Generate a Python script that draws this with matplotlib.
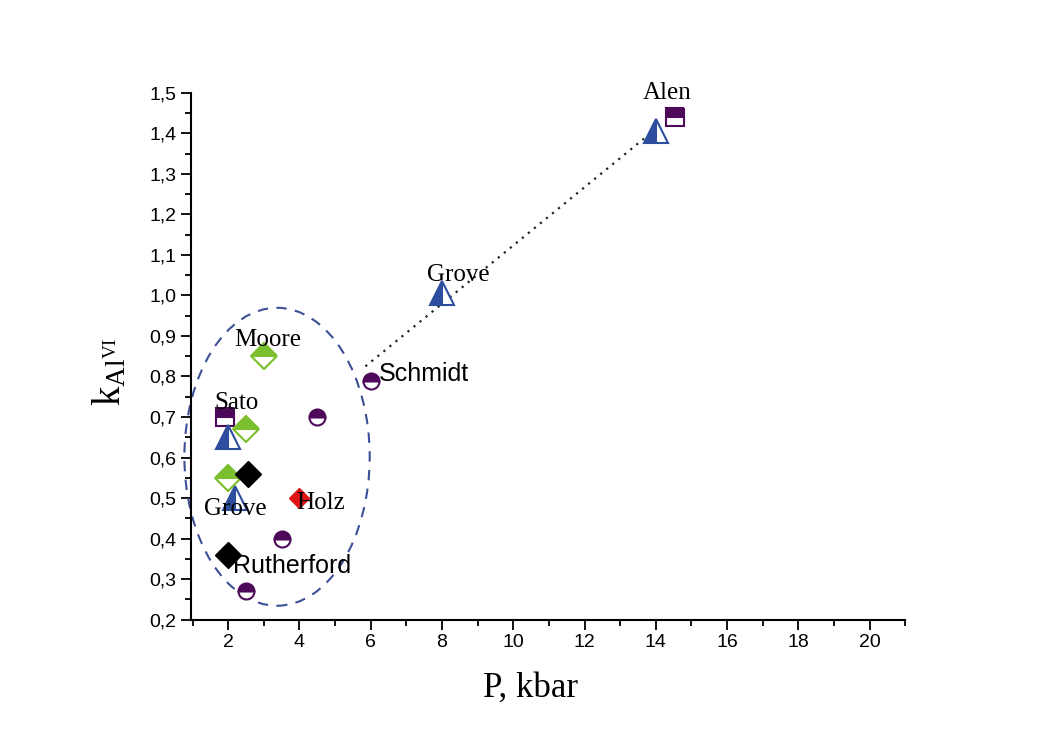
import matplotlib
matplotlib.use("Agg")
import matplotlib.pyplot as plt
from matplotlib.patches import Ellipse

plt.rcParams['font.family'] = ['Liberation Sans', 'DejaVu Sans']
plt.rcParams['mathtext.fontset'] = 'custom'
plt.rcParams['mathtext.rm'] = 'Liberation Serif'
plt.rcParams['mathtext.it'] = 'Liberation Serif:italic'

# Data
circle_x = [6.0, 4.5, 3.5, 2.5]
circle_y = [0.79, 0.70, 0.40, 0.27]
square_x = [1.9, 14.55]
square_y = [0.70, 1.44]
tri_x = [2.0, 2.2, 8.0, 14.0]
tri_y = [0.65, 0.50, 1.005, 1.405]
green_x = [3.0, 2.5, 2.0]
green_y = [0.85, 0.67, 0.55]
black_x = [2.55, 2.0]
black_y = [0.56, 0.36]
red_x = [4.0]
red_y = [0.50]
trend_x = [5.85, 13.85]
trend_y = [0.825, 1.40]

labels = [
    ("Alen", 14.32, 1.50, 'serif'),
    ("Grove", 8.45, 1.05, 'serif'),
    ("Schmidt", 7.5, 0.805, 'sans'),
    ("Moore", 3.1, 0.89, 'serif'),
    ("Sato", 2.22, 0.735, 'serif'),
    ("Grove", 2.2, 0.474, 'serif'),
    ("Holz", 4.6, 0.487, 'serif'),
    ("Rutherford", 3.78, 0.333, 'sans'),
]

purple = '#4e0a5a'
blue = '#2d4e9e'
green = '#7cbf2e'

fig = plt.figure(figsize=(10.37, 7.36), dpi=100)
ax = fig.add_axes([0.184, 0.158, 0.689, 0.716])
ax.set_xlim(0.95, 21)
ax.set_ylim(0.2, 1.5)

ax.plot(trend_x, trend_y, linestyle=(0, (1, 2.5)), color='#222222', lw=1.6, zorder=2)

ax.plot(circle_x, circle_y, 'o', ms=11.5, fillstyle='top', markerfacecolor=purple,
        markerfacecoloralt='white', markeredgecolor=purple, mew=1.5, ls='none', zorder=3)
ax.plot(square_x, square_y, 's', ms=12.5, fillstyle='top', markerfacecolor=purple,
        markerfacecoloralt='white', markeredgecolor=purple, mew=1.5, ls='none', zorder=3)
ax.plot(tri_x, tri_y, '^', ms=17, fillstyle='left', markerfacecolor=blue,
        markerfacecoloralt='white', markeredgecolor=blue, mew=1.5, ls='none', zorder=3)
ax.plot(green_x, green_y, 'D', ms=13, fillstyle='top', markerfacecolor=green,
        markerfacecoloralt='white', markeredgecolor=green, mew=1.5, ls='none', zorder=3)
ax.plot(black_x, black_y, 'D', ms=13, color='black', ls='none', zorder=4)
ax.plot(red_x, red_y, 'D', ms=10, color='#e01515', ls='none', zorder=3)

for txt, x, y, fam in labels:
    family = ['Liberation Serif'] if fam == 'serif' else ['Liberation Sans']
    ax.text(x, y, txt, fontsize=18, family=family, ha='center', va='center',
            zorder=5, clip_on=False)

ell = Ellipse((3.37, 0.602), width=5.2, height=0.735, fill=False, edgecolor='#3d4f96',
              linestyle=(0, (5, 4)), lw=1.5, clip_on=False, zorder=2)
ax.add_patch(ell)

ax.spines['top'].set_visible(False)
ax.spines['right'].set_visible(False)
ax.spines['left'].set_linewidth(1.5)
ax.spines['bottom'].set_linewidth(1.5)

ax.set_xticks([2, 4, 6, 8, 10, 12, 14, 16, 18, 20])
ax.set_xticks([1, 3, 5, 7, 9, 11, 13, 15, 17, 19, 21], minor=True)
yt = [0.2 + 0.1 * i for i in range(14)]
ax.set_yticks(yt)
ax.set_yticklabels([f"{v:.1f}".replace('.', ',') for v in yt])
ax.set_yticks([0.25 + 0.1 * i for i in range(13)], minor=True)
ax.tick_params(axis='both', which='major', direction='out', length=7, width=1.3, labelsize=14)
ax.tick_params(axis='both', which='minor', direction='out', length=4, width=1.3)

ax.set_xlabel('P, kbar', fontsize=25, family=['Liberation Serif'])
ax.xaxis.set_label_coords(0.476, -0.098)
ax.set_ylabel(r'$\mathrm{k}_{\mathrm{Al}^{\mathrm{VI}}}$', fontsize=28)
ax.yaxis.set_label_coords(-0.087, 0.47)

fig.savefig('out.png', dpi=100, facecolor='white')
